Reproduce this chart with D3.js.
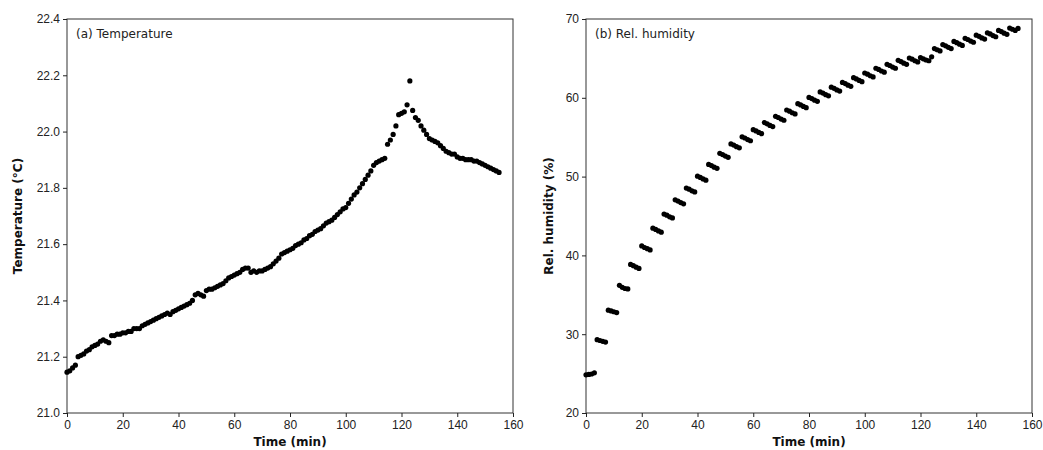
<!DOCTYPE html>
<html>
<head>
<meta charset="utf-8">
<script src="https://cdnjs.cloudflare.com/ajax/libs/d3/7.8.5/d3.min.js"></script>
<style>
  body { margin: 0; background: #fff; }
  svg { font-family: "DejaVu Sans", sans-serif; }
  .tick text { font-size: 12px; fill: #222; }
  .tick line { stroke: #222; }
  .axis-title { font-size: 12px; font-weight: bold; fill: #111; }
  .panel-title { font-size: 12px; fill: #222; }
</style>
</head>
<body>
<div id="chart"></div>
<script>
// sample times (min), one reading per minute
var timeMin = [
  0,1,2,3,4,5,6,7,8,9,10,11,12,13,14,15,16,17,18,19,
  20,21,22,23,24,25,26,27,28,29,30,31,32,33,34,35,36,37,38,39,
  40,41,42,43,44,45,46,47,48,49,50,51,52,53,54,55,56,57,58,59,
  60,61,62,63,64,65,66,67,68,69,70,71,72,73,74,75,76,77,78,79,
  80,81,82,83,84,85,86,87,88,89,90,91,92,93,94,95,96,97,98,99,
  100,101,102,103,104,105,106,107,108,109,110,111,112,113,114,115,116,117,118,119,
  120,121,122,123,124,125,126,127,128,129,130,131,132,133,134,135,136,137,138,139,
  140,141,142,143,144,145,146,147,148,149,150,151,152,153,154,155
];

// temperature (°C)
var temperature = [
  21.145,21.15,21.16,21.17,21.20,21.205,21.21,21.22,21.225,21.235,
  21.24,21.245,21.255,21.26,21.255,21.25,21.275,21.275,21.28,21.28,
  21.285,21.285,21.29,21.29,21.30,21.30,21.30,21.31,21.315,21.32,
  21.325,21.33,21.335,21.34,21.345,21.35,21.355,21.35,21.36,21.365,
  21.37,21.375,21.38,21.385,21.39,21.40,21.42,21.425,21.42,21.415,
  21.435,21.44,21.44,21.445,21.45,21.455,21.46,21.47,21.48,21.485,
  21.49,21.495,21.50,21.51,21.515,21.515,21.50,21.505,21.50,21.505,
  21.505,21.51,21.515,21.52,21.53,21.54,21.55,21.565,21.57,21.575,
  21.58,21.585,21.595,21.60,21.605,21.615,21.62,21.63,21.635,21.645,
  21.65,21.655,21.665,21.675,21.68,21.685,21.695,21.705,21.715,21.725,
  21.73,21.745,21.76,21.775,21.785,21.80,21.815,21.83,21.845,21.86,
  21.88,21.89,21.895,21.90,21.905,21.955,21.97,21.99,22.02,22.06,
  22.065,22.07,22.095,22.18,22.075,22.05,22.04,22.02,22.005,21.99,
  21.975,21.97,21.965,21.96,21.95,21.94,21.93,21.925,21.92,21.92,
  21.91,21.905,21.905,21.90,21.90,21.90,21.895,21.895,21.89,21.885,
  21.88,21.875,21.87,21.865,21.86,21.855
];

// relative humidity (%)
var humidity = [
  24.85,24.9,24.95,25.1,   29.3,29.2,29.1,29.0,     33.05,32.95,32.85,32.75,
  36.2,35.95,35.8,35.75,   38.85,38.7,38.5,38.35,   41.2,41.0,40.85,40.7,
  43.45,43.3,43.1,42.95,   45.25,45.1,44.9,44.75,   47.05,46.9,46.7,46.55,
  48.55,48.4,48.2,48.05,   50.05,49.9,49.7,49.55,   51.55,51.4,51.2,51.05,
  52.95,52.8,52.6,52.45,   54.15,54.0,53.8,53.65,   55.05,54.9,54.7,54.55,
  55.95,55.8,55.6,55.45,   56.85,56.7,56.5,56.35,   57.65,57.5,57.3,57.15,
  58.45,58.3,58.1,57.95,   59.25,59.1,58.9,58.75,   60.05,59.9,59.7,59.55,
  60.75,60.6,60.4,60.25,   61.35,61.2,61.0,60.85,   61.95,61.8,61.6,61.45,
  62.55,62.4,62.2,62.05,   63.15,63.0,62.8,62.65,   63.75,63.6,63.4,63.25,
  64.25,64.1,63.9,63.75,   64.75,64.6,64.4,64.25,   65.05,64.9,64.7,64.55,
  65.1,64.95,64.8,64.7,    65.2,66.25,66.1,65.95,   66.75,66.6,66.4,66.25,
  67.15,67.0,66.8,66.65,   67.55,67.4,67.2,67.05,   67.95,67.8,67.6,67.45,
  68.25,68.1,67.9,67.75,   68.55,68.4,68.2,68.05,   68.85,68.7,68.55,68.8
];

var timeTicks = [0, 20, 40, 60, 80, 100, 120, 140, 160];
var tempTicks = [21.0, 21.2, 21.4, 21.6, 21.8, 22.0, 22.2, 22.4];
var rhTicks = [20, 30, 40, 50, 60, 70];

var svgWidth = 1043;
var svgHeight = 450;

var svg = d3.select("#chart")
  .append("svg")
  .attr("width", svgWidth)
  .attr("height", svgHeight);

function drawPanel(opts) {
  var x = d3.scaleLinear().domain([0, 160]).range([opts.left, opts.left + 446]);
  var y = d3.scaleLinear().domain(opts.yDomain).range([413, 19]);

  var g = svg.append("g");

  // frame
  g.append("rect")
    .attr("x", x(0))
    .attr("y", y(opts.yDomain[1]))
    .attr("width", x(160) - x(0))
    .attr("height", y(opts.yDomain[0]) - y(opts.yDomain[1]))
    .attr("fill", "none")
    .attr("stroke", "#333")
    .attr("stroke-width", 1);

  var xAxis = g.append("g")
    .attr("transform", "translate(0," + y(opts.yDomain[0]) + ")")
    .call(d3.axisBottom(x).tickValues(timeTicks).tickSize(4).tickPadding(3).tickFormat(d3.format("d")));

  var yAxis = g.append("g")
    .attr("transform", "translate(" + x(0) + ",0)")
    .call(d3.axisLeft(y).tickValues(opts.yTicks).tickSize(4).tickPadding(3).tickFormat(opts.yFormat));

  xAxis.select(".domain").remove();
  yAxis.select(".domain").remove();

  // points
  g.append("g")
    .selectAll("circle")
    .data(opts.values)
    .enter()
    .append("circle")
    .attr("cx", (d, i) => x(timeMin[i]))
    .attr("cy", d => y(d))
    .attr("r", 2.6)
    .attr("fill", "#000");

  g.append("text")
    .attr("class", "panel-title")
    .attr("x", x(0) + 9)
    .attr("y", 38)
    .text(opts.title);

  g.append("text")
    .attr("class", "axis-title")
    .attr("x", (x(0) + x(160)) / 2)
    .attr("y", 446)
    .attr("text-anchor", "middle")
    .text("Time (min)");

  g.append("text")
    .attr("class", "axis-title")
    .attr("transform", "translate(" + opts.yLabelX + "," + ((y.range()[0] + y.range()[1]) / 2) + ") rotate(-90)")
    .attr("text-anchor", "middle")
    .text(opts.yLabel);
}

drawPanel({
  left: 67,
  yDomain: [21.0, 22.4],
  yTicks: tempTicks,
  yFormat: d3.format(".1f"),
  values: temperature,
  title: "(a) Temperature",
  yLabel: "Temperature (°C)",
  yLabelX: 22
});

drawPanel({
  left: 586,
  yDomain: [20, 70],
  yTicks: rhTicks,
  yFormat: d3.format("d"),
  values: humidity,
  title: "(b) Rel. humidity",
  yLabel: "Rel. humidity (%)",
  yLabelX: 553
});
</script>
</body>
</html>
